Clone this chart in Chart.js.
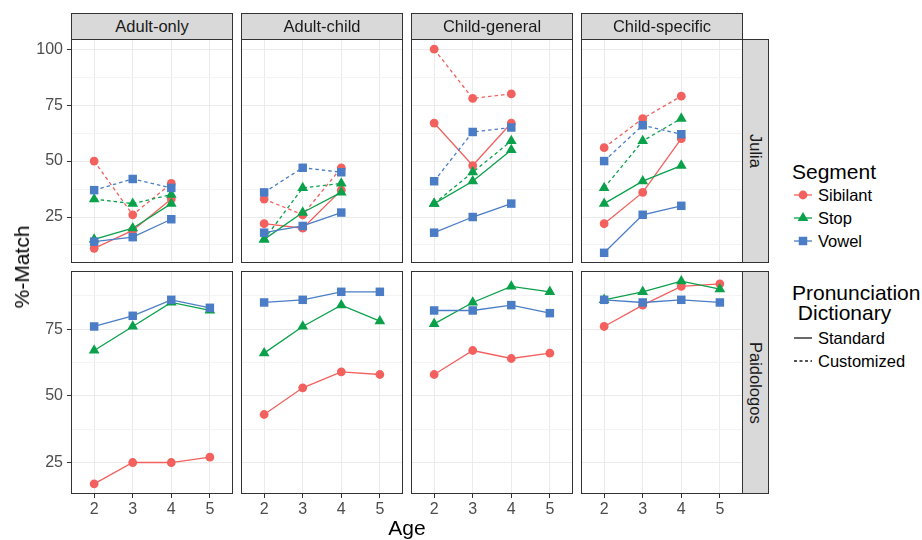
<!DOCTYPE html>
<html>
<head>
<meta charset="utf-8">
<script src="https://cdn.jsdelivr.net/npm/chart.js@4.4.1/dist/chart.umd.min.js"></script>
<style>
  body { margin: 0; background: #fff; font-family: 'Liberation Sans', Arial, sans-serif; }
  #root { position: relative; width: 922px; height: 540px; overflow: hidden; }
  #root canvas { position: absolute; }
  .strip {
    position: absolute; box-sizing: border-box; background: #d9d9d9; border: 1px solid #333;
    color: #1a1a1a; font-size: 16.5px; display: flex; align-items: center; justify-content: center;
  }
  .strip.side span { writing-mode: vertical-rl; }
  .title { position: absolute; font-size: 21px; line-height: 24px; color: #000; white-space: nowrap; }
  .legend { position: absolute; color: #000; white-space: pre; }
  .legend .head { position: absolute; font-size: 21px; line-height: 20px; }
  .legend .item { position: absolute; font-size: 16.5px; line-height: 18px; }
  .legend svg { position: absolute; }
</style>
</head>
<body>
<div id="root"></div>
<script>
const ages = [2, 3, 4, 5];
const facets = ['Adult-only', 'Adult-child', 'Child-general', 'Child-specific'];
const corpora = ['Julia', 'Paidologos'];
const segments = ['Sibilant', 'Stop', 'Vowel'];
const dictionaries = ['Standard', 'Customized'];

// Julia: ages 2-4, one inner array per facet
const juliaSibilantStandard = [[11, 19, 33], [22, 20, 37], [67, 48, 67], [22, 36, 60]];
const juliaSibilantCustom = [[50, 26, 40], [33, 26, 47], [100, 78, 80], [56, 69, 79]];
const juliaStopStandard = [[15, 20, 31], [15, 27, 36], [31, 41, 55], [31, 41, 48]];
const juliaStopCustom = [[33, 31, 35], [15, 38, 40], [31, 45, 59], [38, 59, 69]];
const juliaVowelStandard = [[14, 16, 24], [18, 21, 27], [18, 25, 31], [9, 26, 30]];
const juliaVowelCustom = [[37, 42, 38], [36, 47, 45], [41, 63, 65], [50, 66, 62]];

// Paidologos: ages 2-5, standard dictionary only
const paidSibilant = [[17, 25, 25, 27], [43, 53, 59, 58], [58, 67, 64, 66], [76, 84, 91, 92]];
const paidStop = [[67, 76, 85, 82], [66, 76, 84, 78], [77, 85, 91, 89], [86, 89, 93, 90]];
const paidVowel = [[76, 80, 86, 83], [85, 86, 89, 89], [82, 82, 84, 81], [86, 85, 86, 85]];

const yMajor = [[25, 50, 75, 100], [25, 50, 75]];
const yMinor = [[12.5, 37.5, 62.5, 87.5], [37.5, 62.5, 87.5]];
const yLimits = [[4.45, 104.55], [13.2, 96.8]];
const xLimits = [1.4, 5.6];

const colors = ['#f2615e', '#0aa14a', '#4b7dc6'];
const shapes = ['circle', 'triangle', 'rect'];
const radii = [4.4, 6.2, 6];
const dashes = [[], [3.5, 3]];
const FONT = "'Liberation Sans', Arial, sans-serif";

const panelLeft = [71, 241, 411, 581];
const panelTop = [39, 271];
const panelW = 162;
const panelH = [224, 223];
const yAxisW = 41;
const xAxisH = 26;

const root = document.getElementById('root');

function seriesFor(row, seg, col) {
  if (row === 0) {
    const std = [juliaSibilantStandard, juliaStopStandard, juliaVowelStandard][seg][col];
    const cus = [juliaSibilantCustom, juliaStopCustom, juliaVowelCustom][seg][col];
    return [std, cus];
  }
  return [[paidSibilant, paidStop, paidVowel][seg][col]];
}

function buildDatasets(row, col) {
  const sets = [];
  segments.forEach((seg, s) => {
    seriesFor(row, s, col).forEach((vals, d) => {
      const pts = vals.map((v, i) => ({ x: ages[i], y: v }));
      // lines first, points on top (like geom_line + geom_point)
      sets.push({
        label: seg + ' ' + dictionaries[d],
        data: pts,
        showLine: true,
        borderColor: colors[s],
        borderWidth: 1.3,
        borderDash: dashes[d],
        pointRadius: 0,
        order: 20 - s
      });
      sets.push({
        label: seg + ' ' + dictionaries[d] + ' points',
        data: pts,
        showLine: false,
        pointStyle: shapes[s],
        pointRadius: radii[s],
        pointBackgroundColor: colors[s],
        pointBorderColor: colors[s],
        pointBorderWidth: 0,
        order: 3 - s
      });
    });
  });
  return sets;
}

const panelBorder = {
  id: 'panelBorder',
  afterDraw(chart) {
    const a = chart.chartArea;
    const ctx = chart.ctx;
    ctx.save();
    ctx.strokeStyle = '#333';
    ctx.lineWidth = 1;
    ctx.strokeRect(a.left + 0.5, a.top + 0.5, a.right - a.left - 1, a.bottom - a.top - 1);
    ctx.restore();
  }
};

function makePanel(row, col) {
  const leftAxis = col === 0;
  const bottomAxis = row === 1;
  const canvas = document.createElement('canvas');
  const w = panelW + (leftAxis ? yAxisW : 0);
  const h = panelH[row] + (bottomAxis ? xAxisH : 0);
  canvas.width = w;
  canvas.height = h;
  canvas.style.width = w + 'px';
  canvas.style.height = h + 'px';
  canvas.style.left = (panelLeft[col] - (leftAxis ? yAxisW : 0)) + 'px';
  canvas.style.top = panelTop[row] + 'px';
  root.appendChild(canvas);

  const isMajor = v => yMajor[row].includes(v);

  new Chart(canvas, {
    type: 'scatter',
    data: { datasets: buildDatasets(row, col) },
    plugins: [panelBorder],
    options: {
      responsive: false,
      animation: false,
      events: [],
      layout: { padding: 0, autoPadding: false },
      plugins: { legend: { display: false }, tooltip: { enabled: false } },
      scales: {
        x: {
          type: 'linear',
          min: xLimits[0],
          max: xLimits[1],
          afterBuildTicks: s => { s.ticks = ages.map(v => ({ value: v })); },
          afterFit: s => {
            s.height = bottomAxis ? xAxisH : 0;
            s.paddingLeft = 0;
            s.paddingRight = 0;
          },
          ticks: {
            display: bottomAxis,
            color: '#4d4d4d',
            padding: 2,
            maxRotation: 0,
            font: { size: 16, family: FONT }
          },
          grid: { color: '#ebebeb', lineWidth: 1, tickColor: '#333', tickLength: 4, drawTicks: bottomAxis },
          border: { display: false }
        },
        y: {
          type: 'linear',
          min: yLimits[row][0],
          max: yLimits[row][1],
          afterBuildTicks: s => {
            s.ticks = yMinor[row].concat(yMajor[row]).sort((a, b) => a - b).map(v => ({ value: v }));
          },
          afterFit: s => {
            s.width = leftAxis ? yAxisW : 0;
            s.paddingTop = 0;
            s.paddingBottom = 0;
          },
          ticks: {
            display: leftAxis,
            color: '#4d4d4d',
            padding: 4,
            font: { size: 16, family: FONT },
            callback: v => (isMajor(v) ? String(v) : '')
          },
          grid: {
            color: ctx => (isMajor(ctx.tick.value) ? '#ebebeb' : '#f4f4f4'),
            lineWidth: 1,
            tickColor: ctx => (isMajor(ctx.tick.value) ? '#333' : 'rgba(0,0,0,0)'),
            tickLength: 4,
            drawTicks: leftAxis
          },
          border: { display: false }
        }
      }
    }
  });
}

corpora.forEach((c, row) => facets.forEach((f, col) => makePanel(row, col)));

// facet strips
facets.forEach((f, col) => {
  const d = document.createElement('div');
  d.className = 'strip';
  d.style.left = panelLeft[col] + 'px';
  d.style.top = '13px';
  d.style.width = panelW + 'px';
  d.style.height = (panelTop[0] - 13 + 1) + 'px';
  d.textContent = f;
  root.appendChild(d);
});
corpora.forEach((c, row) => {
  const d = document.createElement('div');
  d.className = 'strip side';
  d.style.left = (panelLeft[3] + panelW - 1) + 'px';
  d.style.top = panelTop[row] + 'px';
  d.style.width = '27px';
  d.style.height = panelH[row] + 'px';
  d.innerHTML = '<span>' + c + '</span>';
  root.appendChild(d);
});

// axis titles
const xTitle = document.createElement('div');
xTitle.className = 'title';
xTitle.textContent = 'Age';
xTitle.style.left = '407px';
xTitle.style.top = '516px';
xTitle.style.transform = 'translateX(-50%)';
root.appendChild(xTitle);

const yTitle = document.createElement('div');
yTitle.className = 'title';
yTitle.textContent = '%-Match';
yTitle.style.left = '22px';
yTitle.style.top = '267px';
yTitle.style.transform = 'translate(-50%, -50%) rotate(-90deg)';
root.appendChild(yTitle);

// legends
function glyph(shape, color, dash) {
  let mark = '';
  if (shape === 'circle') mark = '<circle cx="10" cy="9" r="4.4" fill="' + color + '"/>';
  if (shape === 'triangle') mark = '<polygon points="10,3 15.4,12.1 4.6,12.1" fill="' + color + '"/>';
  if (shape === 'rect') mark = '<rect x="5.75" y="4.75" width="8.5" height="8.5" fill="' + color + '"/>';
  return '<svg width="20" height="18" viewBox="0 0 20 18"><line x1="1" y1="9" x2="19" y2="9" stroke="' + color +
    '" stroke-width="1.3"' + (dash ? ' stroke-dasharray="' + dash + '"' : '') + '/>' + mark + '</svg>';
}

const legend = document.createElement('div');
legend.className = 'legend';
legend.style.left = '0px';
legend.style.top = '0px';
let html = '<div class="head" style="left:792px;top:162px">Segment</div>';
const segY = [195, 218, 241];
segments.forEach((s, i) => {
  html += '<div style="position:absolute;left:793px;top:' + (segY[i] - 9) + 'px">' + glyph(shapes[i], colors[i]) + '</div>';
  html += '<div class="item" style="left:818px;top:' + (segY[i] - 9) + 'px">' + s + '</div>';
});
html += '<div class="head" style="left:792px;top:283px">Pronunciation\n Dictionary</div>';
const dictY = [338, 361];
dictionaries.forEach((s, i) => {
  html += '<div style="position:absolute;left:793px;top:' + (dictY[i] - 9) + 'px">' + glyph(null, '#1a1a1a', i ? '3,2.5' : '') + '</div>';
  html += '<div class="item" style="left:818px;top:' + (dictY[i] - 9) + 'px">' + s + '</div>';
});
legend.innerHTML = html;
root.appendChild(legend);
</script>
</body>
</html>
